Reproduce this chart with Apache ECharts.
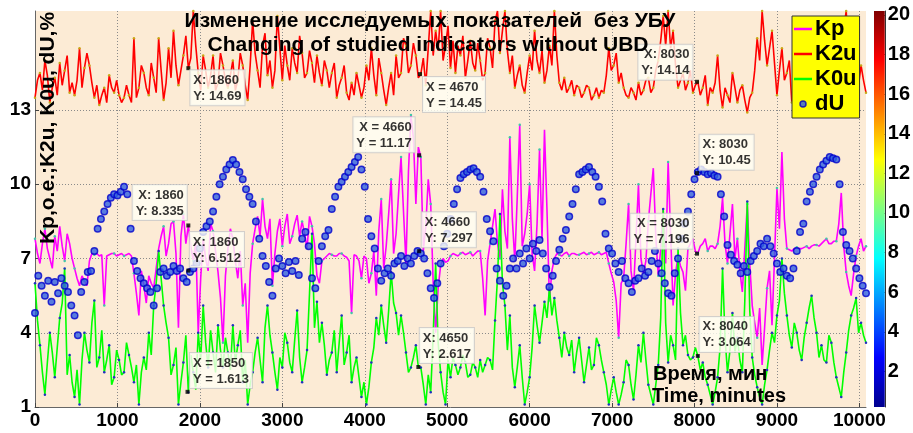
<!DOCTYPE html>
<html><head><meta charset="utf-8">
<script src="https://cdn.jsdelivr.net/npm/echarts@6/dist/echarts.min.js"></script>
<style>html,body{margin:0;padding:0;background:#fff}#c{width:913px;height:433px}</style>
</head><body><div id="c"></div>
<script>
// sampling interval (minutes) of the series
const STEP_LINE = 30;
const STEP_DU = 40;

const kp = [
7.8,7.2,6.8,7.6,8.2,7.4,7.0,6.6,7.9,7.3,8.3,7.5,6.9,8.0,7.6,7.0,6.6,6.2,5.9,6.3,
6.1,5.9,6.9,7.2,7.15,7.2,7.1,7.15,5.1,7.1,7.15,7.2,7.2,7.1,7.15,7.2,7.1,7.15,7.2,7.1,
6.4,5.6,4.7,6.5,5.9,5.2,6.3,6.0,5.8,6.6,7.4,7.9,8.3,7.1,7.6,8.4,8.5,7.2,4.2,7.9,
8.8,7.6,8.335,7.5,6.9,7.7,4.0,6.2,7.8,7.0,6.5,8.4,8.1,7.3,6.45,5.4,3.6,6.3,7.4,8.2,
7.8,6.9,6.2,7.3,5.1,6.0,3.6,6.4,7.6,8.2,8.7,7.9,9.4,8.3,7.8,8.6,5.9,7.2,8.1,8.6,
7.5,8.3,8.8,7.6,7.9,8.4,8.75,7.9,8.5,8.0,7.4,8.7,8.3,7.6,6.3,6.0,6.9,7.0,7.1,7.2,
7.15,7.1,7.1,7.2,7.2,7.1,7.05,6.9,4.8,7.15,7.1,6.9,6.2,7.1,7.0,6.0,6.4,7.3,5.5,8.1,
9.4,6.6,7.5,8.8,10.2,7.2,8.0,9.6,11.1,8.9,6.8,10.5,12.8,11.9,9.2,11.5,11.1,7.3,8.3,10.2,
9.2,6.0,4.0,5.8,6.7,7.0,6.85,6.9,7.1,7.2,7.15,7.1,7.2,7.25,7.15,7.2,7.25,7.1,7.2,7.3,
7.3,6.2,4.7,6.9,7.6,8.3,9.0,7.6,7.0,9.8,8.1,7.4,11.9,8.6,6.9,9.5,12.4,7.5,8.0,8.8,
10.0,7.2,6.5,8.4,11.4,7.8,12.2,9.0,5.3,6.5,7.0,7.2,7.15,7.1,7.2,7.25,7.1,7.2,7.2,7.15,
7.15,7.2,7.25,7.15,7.2,7.25,7.15,7.2,7.25,7.15,7.2,7.25,6.8,6.4,6.05,5.3,3.8,6.0,6.2,7.6,
9.2,6.5,5.7,7.8,10.0,7.0,6.4,6.9,8.5,9.6,10.65,7.9,6.3,7.4,9.0,6.8,10.9,8.0,5.1,6.4,
7.1,6.7,6.45,5.7,7.4,7.6,7.8,7.3,7.2,7.5,7.6,7.8,7.3,7.5,7.5,7.4,7.6,8.3,9.45,7.6,
6.8,8.0,9.2,7.0,7.8,6.5,5.65,7.4,9.2,6.8,5.1,4.4,3.8,5.0,2.7,4.2,5.8,6.5,4.3,7.0,
9.85,8.2,11.3,8.6,7.4,7.35,7.3,7.4,7.45,7.4,7.4,7.45,7.5,7.4,7.5,7.55,7.55,7.5,7.6,7.7,
7.8,7.6,7.6,7.7,7.7,8.4,9.65,7.5,6.45,5.9,5.5,6.4,7.1,7.5,7.8,7.3,7.5];

const k2u = [
13.5,14.2,14.5,13.8,15.0,14.4,13.3,13.9,14.3,13.6,14.9,14.0,14.6,15.2,13.7,14.1,13.6,14.2,15.5,13.9,
14.7,15.3,14.8,14.1,13.5,14.0,13.2,13.6,13.9,13.3,14.4,13.9,13.7,14.2,13.6,13.3,13.5,14.0,13.6,13.3,
15.9,13.5,13.9,14.8,14.5,13.9,13.6,14.9,14.3,13.7,15.9,14.6,13.4,14.1,15.5,14.3,16.2,14.8,14.0,14.6,
15.2,16.0,14.69,15.1,17.0,15.6,14.5,13.8,15.2,14.6,13.9,14.4,15.2,13.8,14.1,15.3,14.8,14.2,13.9,14.4,
15.0,13.8,14.2,15.3,14.8,14.0,13.4,14.8,16.6,15.3,14.6,13.9,15.6,16.1,14.4,15.0,13.9,14.6,16.8,15.5,
14.2,15.6,14.8,14.2,15.5,14.9,14.5,16.0,15.3,14.3,14.5,15.4,14.9,14.1,15.2,14.5,14.0,15.0,14.6,13.9,
14.5,14.9,13.5,14.0,14.3,14.8,13.7,13.4,14.1,13.6,14.5,14.0,13.5,13.9,14.8,14.2,15.5,14.4,13.6,15.1,
14.5,13.8,13.2,13.9,14.5,13.6,15.2,14.3,14.5,15.9,15.6,14.5,14.8,15.7,15.2,14.3,14.45,15.1,14.0,15.5,
17.0,15.2,16.2,15.4,17.0,15.0,15.6,16.4,14.7,15.8,14.5,15.6,15.2,16.0,14.3,15.0,15.8,14.9,14.6,15.7,
15.0,14.2,14.5,15.9,15.5,14.7,16.6,17.0,15.3,16.2,17.0,15.4,14.5,15.2,13.9,14.4,14.8,14.0,13.7,14.5,
15.2,14.6,16.2,15.0,14.5,15.4,14.1,14.6,15.6,14.8,17.0,15.2,14.1,13.8,14.3,13.7,13.9,14.2,13.6,14.0,
13.9,13.5,13.7,14.0,13.9,13.4,13.6,13.9,13.5,13.8,13.7,14.4,15.5,14.6,14.8,15.3,14.1,14.5,13.9,13.6,
13.5,13.9,13.7,13.4,14.1,13.6,13.8,14.2,14.3,13.7,13.9,14.6,15.0,15.8,16.8,15.6,17.0,15.5,16.2,14.8,
13.9,14.2,14.5,13.8,14.1,14.6,13.7,14.0,14.14,13.6,13.9,14.4,13.2,13.9,13.7,14.1,15.2,13.8,13.1,13.9,
13.6,13.3,14.5,13.9,13.3,13.8,14.0,13.4,12.9,13.5,13.7,14.6,15.9,15.0,17.0,15.8,14.8,15.5,16.2,14.9,
13.6,14.6,15.5,14.2,14.5,15.0,13.3,13.9,13.9,13.5,14.0,14.5,15.0,13.9,14.2,14.9,15.5,14.6,14.0,14.9,
14.8,14.2,13.8,14.6,14.5,15.6,15.2,16.3,17.0,15.0,14.0,13.5,13.1,14.0,14.8,14.2,13.7];

const k0u = [
6.0,4.5,3.5,2.4,1.5,2.8,4.0,3.2,2.2,3.4,4.6,5.2,6.6,2.3,3.1,2.0,1.4,2.5,1.1,2.9,
4.0,3.3,2.8,4.4,5.3,2.6,3.0,4.1,2.4,2.9,3.5,1.9,2.2,3.3,2.9,2.3,2.4,3.6,3.1,2.6,
2.0,2.7,1.1,2.4,3.0,2.5,4.0,3.1,5.1,6.0,7.3,6.2,5.1,4.4,3.8,2.3,2.7,3.4,1.1,2.0,
2.8,3.9,1.6,3.1,2.4,1.7,4.0,2.9,5.1,3.6,2.6,4.1,3.2,2.4,4.3,3.3,2.6,3.8,3.2,2.5,
4.3,2.8,3.5,4.1,2.0,2.9,1.1,1.9,2.4,3.2,3.8,2.9,2.0,4.2,5.1,3.9,3.2,2.4,1.7,3.0,
2.6,4.0,3.6,2.8,2.4,3.7,4.9,3.0,2.0,2.6,3.3,5.6,8.0,4.2,5.25,3.6,4.4,3.5,2.3,2.9,
3.2,4.1,2.4,3.6,4.7,2.7,3.2,3.9,2.0,2.6,3.0,2.2,1.4,2.0,1.1,1.8,2.8,3.4,4.6,3.9,
5.1,4.3,3.6,4.9,6.45,5.2,4.8,3.9,4.7,4.0,3.2,2.4,2.6,3.0,3.5,2.62,2.6,1.9,1.1,2.3,
1.6,3.9,6.8,3.6,2.4,1.6,1.1,2.9,2.2,3.0,2.7,2.3,2.6,3.1,2.8,2.2,2.3,2.8,2.6,2.2,
2.9,2.4,2.7,3.0,2.9,2.5,4.5,6.2,8.8,6.0,5.1,3.3,4.7,2.6,1.8,2.6,3.5,2.2,1.1,1.6,
2.2,3.4,5.1,4.3,3.6,4.4,5.25,4.6,5.8,4.7,5.4,4.5,3.8,3.0,4.0,3.4,3.1,3.7,2.4,3.2,
3.8,2.9,2.0,2.7,3.4,2.5,2.7,3.8,3.5,2.9,2.4,1.9,1.1,1.7,2.2,1.6,1.1,1.5,2.0,2.9,
2.7,1.9,1.3,2.3,3.5,2.8,4.0,2.9,1.9,1.5,1.1,1.9,2.7,4.6,9.0,4.4,2.8,3.9,3.5,2.9,
7.4,4.8,3.5,3.9,3.1,2.9,3.0,3.4,3.06,2.5,2.8,2.2,1.9,1.5,1.1,1.6,2.2,3.4,6.6,3.8,
2.4,3.3,4.8,3.2,3.8,2.9,2.4,5.3,9.3,4.9,3.0,2.3,1.8,1.4,1.1,1.9,2.5,3.3,4.0,3.6,
4.7,5.3,7.0,5.6,4.7,3.9,3.4,4.4,4.0,3.3,2.9,3.8,4.4,5.0,5.5,4.6,4.0,3.0,3.5,2.9,
2.8,3.9,3.6,2.8,2.2,1.8,1.4,2.4,3.2,4.1,4.7,5.0,5.4,4.0,4.4,3.9,3.6];

const dU = [4.8,6.3,5.9,5.5,6.1,5.25,6.05,5.6,6.2,5.9,5.65,5.1,4.7,3.9,5.65,6.05,6.45,6.5,7.3,8.2,
8.6,8.9,9.2,9.45,9.6,9.55,9.7,9.9,9.6,8.2,6.9,6.5,6.2,6.0,5.8,5.65,5.1,5.8,6.45,6.6,
6.3,6.45,6.7,6.5,6.6,6.2,6.05,6.45,6.6,6.8,7.4,8.07,8.3,8.5,8.9,9.5,10.0,10.3,10.6,10.8,
10.98,10.8,10.5,10.2,9.8,9.5,9.2,8.5,7.8,7.1,6.7,6.05,5.5,6.6,7.0,6.7,6.4,6.86,6.5,6.9,
6.33,7.8,8.07,7.5,6.2,5.8,6.9,7.5,7.9,8.15,9.0,9.5,9.9,10.1,10.3,10.5,10.7,10.9,11.1,10.6,
9.9,8.6,7.9,7.4,6.6,6.1,6.4,6.6,6.3,6.8,6.9,7.1,6.7,7.0,6.8,7.1,7.3,7.2,7.0,6.4,
5.8,5.4,6.0,6.8,7.5,8.0,8.6,9.2,9.8,10.25,10.4,10.5,10.6,10.65,10.5,10.3,9.7,8.6,8.1,7.7,
6.6,6.1,5.5,5.9,6.6,7.0,6.6,7.2,6.8,7.4,7.0,7.6,7.3,7.75,7.2,6.6,5.85,6.3,6.9,7.35,
7.8,8.15,8.7,9.2,9.8,10.4,10.5,10.6,10.7,10.5,10.3,9.9,9.3,8.0,7.4,7.2,6.8,6.45,6.9,6.2,
6.0,5.65,6.1,6.2,6.6,6.3,6.45,6.9,7.3,6.8,6.4,6.0,5.6,5.5,6.4,7.0,7.8,8.4,8.9,9.6,
10.2,10.5,10.6,10.5,10.4,10.45,10.35,10.3,9.6,8.7,7.55,7.15,6.9,6.75,6.4,6.7,6.45,6.9,7.1,7.3,
7.6,7.5,7.8,7.5,7.2,6.8,6.45,6.6,6.3,6.2,6.6,7.3,8.07,8.4,9.3,9.7,10.0,10.3,10.6,10.8,
10.95,11.1,11.05,11.0,10.0,8.07,7.55,7.3,7.0,6.6,6.2,5.9,5.6];

const xTicks = [0,1000,2000,3000,4000,5000,6000,7000,8000,9000,10000];
const yTicks = [1,4,7,10,13];
const cbTicks = [2,4,6,8,10,12,14,16,18,20];
const xRange = [0, 10080];
const yRange = [1, 17];
const cbRange = [0.2, 20.2];

// data tips
const tipX = [1860,4670,8030,4660,1860,8030,1860,4660,8030,1850,4650,8040];
const tipY = [14.69,14.45,14.14,11.17,8.335,10.45,6.512,7.297,7.196,1.613,2.617,3.064];
const tipSep = [':','=',':','=',':',':',':',':','=','=',':',':'];
// label placement (styles): offset from point, align, vertical align
const tipPlace = [
 [2,2,'left','top'],[3,3,'left','top'],[-4.5,-2,'right','bottom'],[-4.5,-3,'right','bottom'],
 [-1.5,-5.5,'right','bottom'],[2.5,-3.4,'left','bottom'],[1.5,-3.6,'left','bottom'],[2.5,-4,'left','bottom'],
 [-4.5,-5,'right','bottom'],[2.4,-3.8,'left','bottom'],[1.4,-4,'left','bottom'],[1.7,-4,'left','bottom']
];

const F = 'Arial, "Liberation Sans", sans-serif';
// markers drawn on every n-th vertex (style only)
const lineData = (arr, every, size) => arr.map((v,i)=>({value:[i*STEP_LINE, v], symbolSize: i % every === 0 ? size : 0}));
const duData = dU.map((v,i)=>[i*STEP_DU, v]);
const tipData = tipX.map((x,i)=>{
  const p = tipPlace[i];
  const s = tipSep[i] === ':' ? ': ' : ' = ';
  return {
    value:[x, tipY[i]],
    label:{ position:[p[0]+2, p[1]+2], align:p[2], verticalAlign:p[3],
      formatter:'X' + s + x + '\nY' + s + tipY[i] }
  };
});
const linePath = 'path://M0,0h18v2.5h-18z';
const plain = v => String(v);

const chart = echarts.init(document.getElementById('c'), null, {renderer:'canvas'});
chart.setOption({
  animation:false,
  backgroundColor:'#ffffff',
  grid:[
    {left:35, top:11, width:831, height:396, show:true, backgroundColor:'#fcebd5', borderWidth:0},
    {left:874, top:11, width:11, height:396, show:false}
  ],
  xAxis:[
    {type:'value', gridIndex:0, min:xRange[0], max:xRange[1],
     axisLine:{show:true, lineStyle:{color:'#666', width:1}},
     axisTick:{show:true, inside:true, length:4, customValues:xTicks, lineStyle:{color:'#444'}},
     axisLabel:{customValues:xTicks, formatter:plain, color:'#000', fontFamily:F, fontWeight:'bold', fontSize:19, margin:4},
     splitLine:{show:true, lineStyle:{color:'#8a8a8a', type:[1,2], width:1}}},
    {type:'category', gridIndex:1, data:['cb'], show:false}
  ],
  yAxis:[
    {type:'value', gridIndex:0, min:yRange[0], max:yRange[1],
     axisLine:{show:true, lineStyle:{color:'#666', width:1}},
     axisTick:{show:true, inside:true, length:4, customValues:yTicks, lineStyle:{color:'#444'}},
     axisLabel:{customValues:yTicks, formatter:plain, color:'#000', fontFamily:F, fontWeight:'bold', fontSize:19, margin:4},
     splitLine:{show:true, lineStyle:{color:'#8a8a8a', type:[1,2], width:1}}},
    {type:'value', gridIndex:1, min:cbRange[0], max:cbRange[1], position:'right',
     axisLine:{show:true, lineStyle:{color:'#333', width:1}},
     axisTick:{show:true, inside:true, length:3, customValues:cbTicks, lineStyle:{color:'#333'}},
     axisLabel:{customValues:cbTicks, formatter:plain, color:'#000', fontFamily:F, fontWeight:'bold', fontSize:20, margin:3},
     splitLine:{show:false}}
  ],
  legend:{
    orient:'vertical', left:792, top:16, itemWidth:18, itemHeight:6, itemGap:3,
    backgroundColor:'#ffff00', borderColor:'#333', borderWidth:1, padding:[2,3,3,2],
    textStyle:{fontFamily:F, fontWeight:'bold', fontSize:22, color:'#000', padding:[0,0,0,-2]},
    data:[
      {name:'Kp', icon:linePath, itemStyle:{color:'#ff00ff'}},
      {name:'K2u', icon:linePath, itemStyle:{color:'#ff0000'}},
      {name:'K0u', icon:linePath, itemStyle:{color:'#00ff00'}},
      {name:'dU', icon:'circle', itemStyle:{color:'#3060e0', borderColor:'#0000c0', borderWidth:1.5}}
    ]
  },
  series:[
    {name:'Kp', type:'line', data:lineData(kp, 4, 2.5), showSymbol:true, showAllSymbol:true, symbol:'circle',
     lineStyle:{color:'#ff00ff', width:1.6}, itemStyle:{color:'#40c8a8'}, z:2},
    {name:'K2u', type:'line', data:lineData(k2u, 2, 2.5), showSymbol:true, showAllSymbol:true, symbol:'circle',
     lineStyle:{color:'#ff0000', width:1.6}, itemStyle:{color:'#c8a818'}, z:2},
    {name:'K0u', type:'line', data:lineData(k0u, 2, 2.5), showSymbol:true, showAllSymbol:true, symbol:'circle',
     lineStyle:{color:'#00ff00', width:1.6}, itemStyle:{color:'#2030c0'}, z:3},
    {name:'dU', type:'scatter', data:duData, symbol:'circle', symbolSize:6.5,
     itemStyle:{color:'#3060e0', borderColor:'#0000cc', borderWidth:1.5}, z:4},
    {name:'tips', type:'scatter', data:tipData, symbol:'rect', symbolSize:4,
     itemStyle:{color:'#000'}, z:10,
     label:{show:true, color:'#000', fontFamily:F, fontWeight:'bold', fontSize:13, lineHeight:16,
       backgroundColor:'#fffff4', borderColor:'#c8c8c8', borderWidth:1, padding:[2,3,1,3]}},
    {name:'cb', type:'bar', xAxisIndex:1, yAxisIndex:1, data:[cbRange[1]], barWidth:'100%', silent:true,
     itemStyle:{color:new echarts.graphic.LinearGradient(0,1,0,0,[
       {offset:0,color:'#00008f'},{offset:0.125,color:'#0000ff'},{offset:0.375,color:'#00ffff'},
       {offset:0.625,color:'#ffff00'},{offset:0.875,color:'#ff0000'},{offset:1,color:'#800000'}])}}
  ],
  graphic:[
    {type:'text', x:430, y:21, z:100, style:{text:'Изменение исследуемых показателей  без УБУ', textAlign:'center', textVerticalAlign:'middle', font:'bold 21px '+F, fill:'#000'}},
    {type:'text', x:428, y:45, z:100, style:{text:'Changing of studied indicators without UBD', textAlign:'center', textVerticalAlign:'middle', font:'bold 21px '+F, fill:'#000'}},
    {type:'text', x:48, y:128, rotation:Math.PI/2, z:100, style:{text:'Kp,o.e.;K2u, K0u, dU,%', textAlign:'center', textVerticalAlign:'middle', font:'bold 21px '+F, fill:'#000'}},
    {type:'text', x:653, y:374, z:100, style:{text:'Время, мин', textAlign:'left', textVerticalAlign:'middle', font:'bold 20px '+F, fill:'#000'}},
    {type:'text', x:652, y:396, z:100, style:{text:'Time, minutes', textAlign:'left', textVerticalAlign:'middle', font:'bold 20px '+F, fill:'#000'}}
  ]
});
</script></body></html>
